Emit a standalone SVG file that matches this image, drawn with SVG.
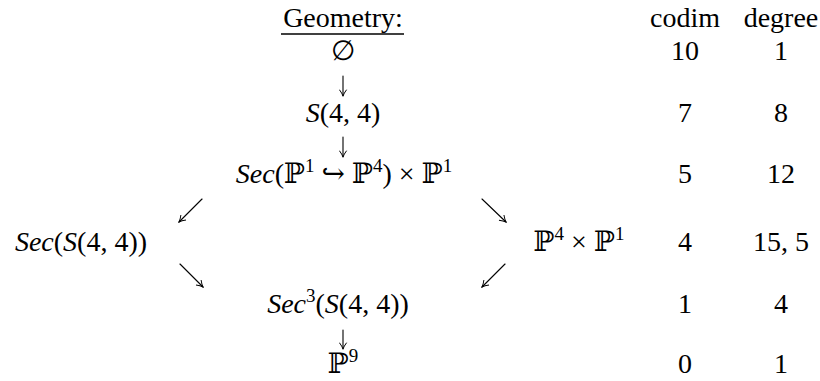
<svg xmlns="http://www.w3.org/2000/svg" width="820" height="381" viewBox="0 0 820 381">
<defs>
<style>
text{font-family:'Liberation Serif','Times New Roman','DejaVu Serif',serif;font-size:28px;fill:#000;text-anchor:middle}
.i{font-style:italic}
.sup{font-size:19px}
.c{stroke:#000;stroke-width:1.1;fill:none;stroke-linecap:round}
</style>
<marker id="ah" viewBox="0 0 10 10" refX="9" refY="5" markerWidth="9" markerHeight="9" orient="auto" markerUnits="userSpaceOnUse">
<path d="M2,1 Q6,4 9,5 Q6,6 2,9" fill="none" stroke="#000" stroke-width="1.1"/>
</marker>
</defs>
<rect width="820" height="381" fill="#fff"/>
<g id="header">
<text x="343" y="27">Geometry:</text>
<line x1="281" y1="34" x2="404" y2="34" stroke="#000" stroke-width="1.3"/>
<text x="685" y="27">codim</text>
<text x="781" y="27">degree</text>
</g>
<g id="n-empty"><text x="343" y="60">∅</text></g>
<g id="n-S44"><text x="343" y="122"><tspan class="i">S</tspan>(4, 4)</text></g>
<g id="n-sec"><text x="344" y="183"><tspan class="i">Sec</tspan>(ℙ<tspan class="sup" dy="-11">1</tspan><tspan dy="11"> ↪ ℙ</tspan><tspan class="sup" dy="-11">4</tspan><tspan dy="11">) × ℙ</tspan><tspan class="sup" dy="-11">1</tspan></text></g>
<g id="n-secS44"><text x="81" y="251"><tspan class="i">Sec</tspan>(<tspan class="i">S</tspan>(4, 4))</text></g>
<g id="n-P4P1"><text x="579" y="251">ℙ<tspan class="sup" dy="-11">4</tspan><tspan dy="11"> × ℙ</tspan><tspan class="sup" dy="-11">1</tspan></text></g>
<g id="n-sec3"><text x="338" y="313"><tspan class="i">Sec</tspan><tspan class="sup" dy="-11">3</tspan><tspan dy="11">(</tspan><tspan class="i">S</tspan>(4, 4))</text></g>
<g id="n-P9"><text x="343" y="373">ℙ<tspan class="sup" dy="-11">9</tspan></text></g>
<g id="table">
<text x="685" y="60">10</text><text x="781" y="60">1</text>
<text x="685" y="122">7</text><text x="781" y="122">8</text>
<text x="685" y="183">5</text><text x="781" y="183">12</text>
<text x="685" y="251">4</text><text x="781" y="251">15, 5</text>
<text x="685" y="313">1</text><text x="781" y="313">4</text>
<text x="685" y="373">0</text><text x="781" y="373">1</text>
</g>
<g id="connectors">
<line class="c" x1="343" y1="76" x2="343" y2="96" marker-end="url(#ah)"/>
<line class="c" x1="343" y1="137" x2="343" y2="157" marker-end="url(#ah)"/>
<line class="c" x1="202" y1="199" x2="179" y2="222" marker-end="url(#ah)"/>
<line class="c" x1="482" y1="199" x2="506" y2="222" marker-end="url(#ah)"/>
<line class="c" x1="180" y1="264" x2="203" y2="287" marker-end="url(#ah)"/>
<line class="c" x1="505" y1="264" x2="482" y2="287" marker-end="url(#ah)"/>
<line class="c" x1="343" y1="330" x2="343" y2="349" marker-end="url(#ah)"/>
</g>
</svg>
